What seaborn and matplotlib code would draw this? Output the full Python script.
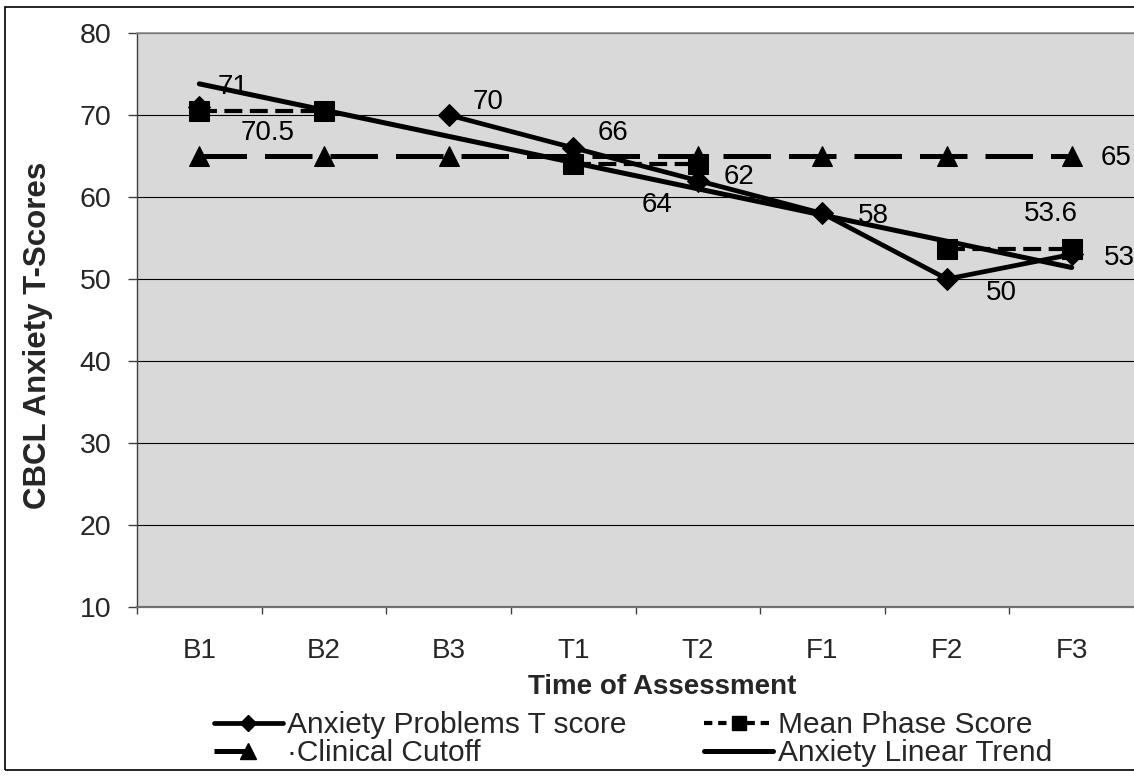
import numpy as np
import pandas as pd
import matplotlib
matplotlib.use("Agg")
import matplotlib.pyplot as plt
from matplotlib.lines import Line2D
from matplotlib.patches import Rectangle
import seaborn as sns

# ---------------- data ----------------
categories = ["B1", "B2", "B3", "T1", "T2", "F1", "F2", "F3"]
anxiety = [71, np.nan, 70, 66, 62, 58, 50, 53]
mean_phase = [70.5, 70.5, np.nan, 64, 64, np.nan, 53.6, 53.6]
cutoff = [65, 65, 65, 65, 65, 65, 65, 65]
trend_cats = ["B1", "F3"]
trend_vals = [73.8, 51.4]

anxiety_labels = ["71", "", "70", "66", "62", "58", "50", "53"]
mean_label_texts = ["70.5", "64", "53.6"]
mean_label_cats = ["B1", "T1", "F3"]
mean_label_vals = [70.5, 64, 53.6]
cutoff_label_text = "65"

y_ticks = [10, 20, 30, 40, 50, 60, 70, 80]
series_names = ["Anxiety Problems T score", "Mean Phase Score",
                "\u00b7Clinical Cutoff", "Anxiety Linear Trend"]

# ---------------- style ----------------
sns.set_theme(style="white")
plt.rcParams["font.family"] = ["Liberation Sans", "DejaVu Sans"]

W, H = 1134, 776
fig = plt.figure(figsize=(W / 100, H / 100), dpi=100)
ax_left, ax_right, ax_top, ax_bottom = 137, 1134, 33, 607
ax = fig.add_axes([ax_left / W, 1 - ax_bottom / H,
                   (ax_right - ax_left) / W, (ax_bottom - ax_top) / H])
ax.set_facecolor("#D9D9D9")

xpos = np.arange(len(categories))
pos_of = {c: i for i, c in enumerate(categories)}


def runs(vals):
    """Split a series into runs of consecutive non-missing values."""
    out, cur = [], []
    for i, v in enumerate(vals):
        if v is None or (isinstance(v, float) and np.isnan(v)):
            if cur:
                out.append(cur)
            cur = []
        else:
            cur.append(i)
    if cur:
        out.append(cur)
    return out


# Clinical cutoff
df_cut = pd.DataFrame({"x": xpos, "y": cutoff})
sns.lineplot(data=df_cut, x="x", y="y", ax=ax, color="black", lw=3.6,
             linestyle=(0, (9.5, 3.6)), marker="^", markersize=15,
             markeredgecolor="black", errorbar=None, zorder=3)

# Mean phase score
for r in runs(mean_phase):
    d = pd.DataFrame({"x": [xpos[i] for i in r], "y": [mean_phase[i] for i in r]})
    sns.lineplot(data=d, x="x", y="y", ax=ax, color="black", lw=3.0,
                 linestyle=(0, (4.3, 1.8)), marker="s", markersize=14.5,
                 markeredgecolor="black", errorbar=None, zorder=4)

# Anxiety problems T score
for r in runs(anxiety):
    d = pd.DataFrame({"x": [xpos[i] for i in r], "y": [anxiety[i] for i in r]})
    sns.lineplot(data=d, x="x", y="y", ax=ax, color="black", lw=3.4,
                 marker="D", markersize=11.5, markeredgecolor="black",
                 errorbar=None, zorder=5)

# Linear trend
df_tr = pd.DataFrame({"x": [pos_of[c] for c in trend_cats], "y": trend_vals})
sns.lineplot(data=df_tr, x="x", y="y", ax=ax, color="black", lw=3.6,
             solid_capstyle="round", errorbar=None, zorder=6)

# ---------------- data labels ----------------
lab_fs = 20
anx_offsets = [(18, 20), None, (24, 13), (24, 15), (26, 4), (35, -3), (39, -14), (32, -4)]
for i, (t, v) in enumerate(zip(anxiety_labels, anxiety)):
    if t and anx_offsets[i] is not None:
        ax.annotate(t, (xpos[i], v), xytext=anx_offsets[i], textcoords="offset pixels",
                    ha="left", va="center", fontsize=lab_fs, color="black", zorder=7)

mean_offsets = [(68, -22), (84, -41), (-21, 35)]
for t, c, v, off in zip(mean_label_texts, mean_label_cats, mean_label_vals, mean_offsets):
    ax.annotate(t, (pos_of[c], v), xytext=off, textcoords="offset pixels",
                ha="center", va="center", fontsize=lab_fs, color="black", zorder=7)

ax.annotate(cutoff_label_text, (xpos[-1], cutoff[-1]), xytext=(29, -2),
            textcoords="offset pixels", ha="left", va="center",
            fontsize=lab_fs, color="black", zorder=7)

# ---------------- axes ----------------
ax.set_xlim(-0.5, len(categories) - 0.5)
ax.set_ylim(y_ticks[0], y_ticks[-1])
ax.set_yticks(y_ticks)
ax.set_yticklabels([str(t) for t in y_ticks], fontsize=20.5)
ax.set_xticks(xpos)
ax.set_xticklabels(categories, fontsize=20)
ax.set_xticks(np.arange(-0.5, len(categories) - 0.5, 1.0), minor=True)
ax.tick_params(axis="x", which="major", length=0, pad=22)
ax.tick_params(axis="x", which="minor", length=5, width=1.0, color="#404040",
               direction="out", bottom=True)
ax.tick_params(axis="y", which="major", length=6.5, width=1.0, color="#404040",
               direction="out", left=True, pad=12)

ax.yaxis.grid(True, color="black", linewidth=0.8)
ax.xaxis.grid(False)
ax.set_axisbelow(True)

for side, sp in ax.spines.items():
    sp.set_visible(True)
ax.spines["right"].set_visible(False)
ax.spines["left"].set_color("#404040")
ax.spines["left"].set_linewidth(1.0)
ax.spines["bottom"].set_color("#707070")
ax.spines["bottom"].set_linewidth(1.6)
ax.spines["top"].set_color("#909090")
ax.spines["top"].set_linewidth(1.2)

ax.set_xlabel("Time of Assessment", fontsize=20, fontweight="bold")
ax.xaxis.set_label_coords((662 - ax_left) / (ax_right - ax_left),
                          -(687 - ax_bottom) / (ax_bottom - ax_top))
ax.xaxis.label.set_va("center")
ax.set_ylabel("CBCL Anxiety T-Scores", fontsize=22.5, fontweight="bold")
ax.yaxis.set_label_coords(-(ax_left - 38) / (ax_right - ax_left),
                          (ax_bottom - 335) / (ax_bottom - ax_top))
ax.yaxis.label.set_va("center")

# ---------------- legend ----------------
handles = [
    Line2D([], [], color="black", lw=3.4, marker="D", markersize=8),
    Line2D([], [], color="black", lw=3.0, linestyle=(0, (2.0, 1.4)), marker="s", markersize=10),
    Line2D([], [], color="black", lw=3.6, linestyle=(0, (6.5, 20)), marker="^", markersize=11),
    Line2D([], [], color="black", lw=3.6),
]
order = [0, 2, 1, 3]
leg = fig.legend([handles[i] for i in order], [series_names[i] for i in order],
                 loc="center", bbox_to_anchor=(633 / W, 1 - 739 / H), ncol=2,
                 frameon=False, fontsize=21.5, handlelength=2.3, handletextpad=0.15,
                 columnspacing=2.6, labelspacing=0.0, borderpad=0.0)

# figure border
fig.patches.append(Rectangle((5 / W, 1 - 770 / H), 1.2, (770 - 7) / H,
                             transform=fig.transFigure, fill=False,
                             edgecolor="black", linewidth=1.2, clip_on=False))

fig.savefig("out.png", dpi=100)
